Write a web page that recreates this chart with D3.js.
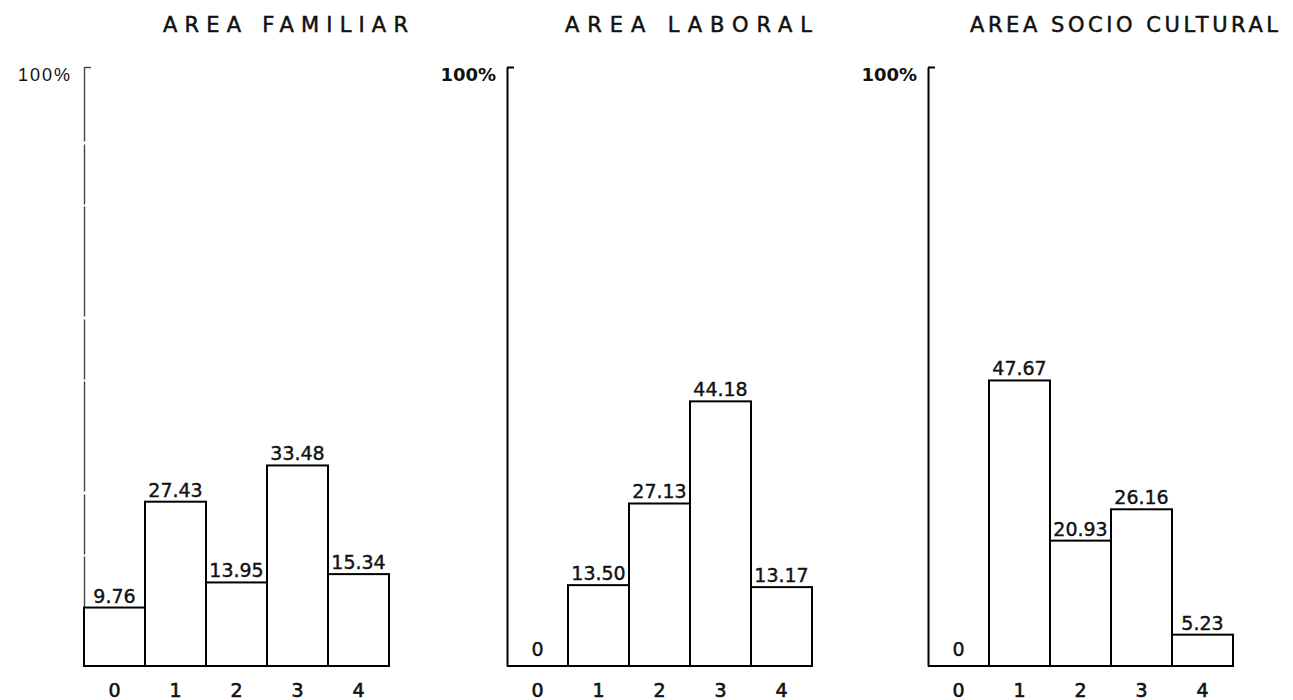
<!DOCTYPE html>
<html>
<head>
<meta charset="utf-8">
<script src="https://cdn.jsdelivr.net/npm/d3@7"></script>
<style>
  body { margin: 0; background: #fff; }
  svg { display: block; }
  text { font-family: "DejaVu Sans", sans-serif; fill: #111; }
</style>
</head>
<body>
<div id="container"></div>
<script>
var width = 1293,
    height = 700;

// data
var categories = ["0", "1", "2", "3", "4"];
var titles = ["AREA FAMILIAR", "AREA LABORAL", "AREA SOCIO CULTURAL"];
var familiar = [9.76, 27.43, 13.95, 33.48, 15.34];
var laboral = [0, 13.50, 27.13, 44.18, 13.17];
var socioCultural = [0, 47.67, 20.93, 26.16, 5.23];
var series = [familiar, laboral, socioCultural];

// layout for each panel
var panels = [
    { axisX: 84, titleX: 163, titleW: 245, faint: true },
    { axisX: 507, titleX: 565, titleW: 247, faint: false },
    { axisX: 928, titleX: 970, titleW: 308, faint: false }
];
var panelW = 305;

var svg = d3.select("#container").append("svg")
    .attr("width", width)
    .attr("height", height);

var y = d3.scaleLinear()
    .domain([0, 100])
    .range([666, 67]);

panels.forEach(function (p, i) {
    var values = series[i];
    var g = svg.append("g");

    var x = d3.scaleBand()
        .domain(categories)
        .range([p.axisX, p.axisX + panelW])
        .padding(0);

    // title
    g.append("text")
        .attr("x", p.titleX)
        .attr("y", 32)
        .attr("textLength", p.titleW)
        .attr("lengthAdjust", "spacing")
        .style("font-size", "21px")
        .style("stroke", "#111")
        .style("stroke-width", 0.5)
        .text(titles[i]);

    // y axis with a single 100% tick
    var axis = d3.axisLeft(y)
        .tickValues([100])
        .tickSizeInner(-7)
        .tickSizeOuter(0)
        .tickPadding(p.faint ? 12 : 11)
        .tickFormat(function (d) { return d + "%"; });

    var ax = g.append("g")
        .attr("transform", "translate(" + p.axisX + ",0)")
        .call(axis);
    ax.select(".domain")
        .attr("stroke", p.faint ? "#444" : "#000")
        .attr("stroke-width", p.faint ? 1.4 : 2)
        .attr("stroke-dasharray", p.faint ? "110,2,60,3" : null);
    ax.selectAll(".tick line")
        .attr("stroke", p.faint ? "#444" : "#000")
        .attr("stroke-width", p.faint ? 1.4 : 2);
    ax.selectAll(".tick text")
        .attr("dy", "0.75em")
        .style("font-size", "18px")
        .style("font-family", p.faint ? "'Liberation Sans', sans-serif" : "'DejaVu Sans', sans-serif")
        .style("font-weight", p.faint ? "normal" : "bold")
        .style("letter-spacing", p.faint ? "2px" : "0px")
        .attr("fill", p.faint ? "#555" : "#111");

    // bars
    g.selectAll("rect.bar")
        .data(values)
        .join("rect")
        .attr("class", "bar")
        .attr("x", function (d, j) { return x(categories[j]); })
        .attr("y", function (d) { return y(d); })
        .attr("width", x.bandwidth())
        .attr("height", function (d) { return y(0) - y(d); })
        .attr("fill", "#fff")
        .attr("stroke", "#000")
        .attr("stroke-width", 2);

    // baseline
    g.append("line")
        .attr("x1", p.axisX)
        .attr("x2", p.axisX + panelW)
        .attr("y1", y(0))
        .attr("y2", y(0))
        .attr("stroke", "#000")
        .attr("stroke-width", 2);

    // value labels
    g.selectAll("text.val")
        .data(values)
        .join("text")
        .attr("class", "val")
        .attr("x", function (d, j) { return x(categories[j]) + x.bandwidth() / 2; })
        .attr("y", function (d) { return y(d) - (d === 0 ? 10 : 5); })
        .attr("text-anchor", "middle")
        .style("font-size", "19px")
        .style("stroke", "#111")
        .style("stroke-width", 0.4)
        .text(function (d) { return d === 0 ? "0" : d.toFixed(2); });

    // category labels
    g.selectAll("text.cat")
        .data(categories)
        .join("text")
        .attr("class", "cat")
        .attr("x", function (d) { return x(d) + x.bandwidth() / 2; })
        .attr("y", 697)
        .attr("text-anchor", "middle")
        .style("font-size", "19px")
        .style("stroke", "#111")
        .style("stroke-width", 0.6)
        .text(function (d) { return d; });
});
</script>
</body>
</html>
